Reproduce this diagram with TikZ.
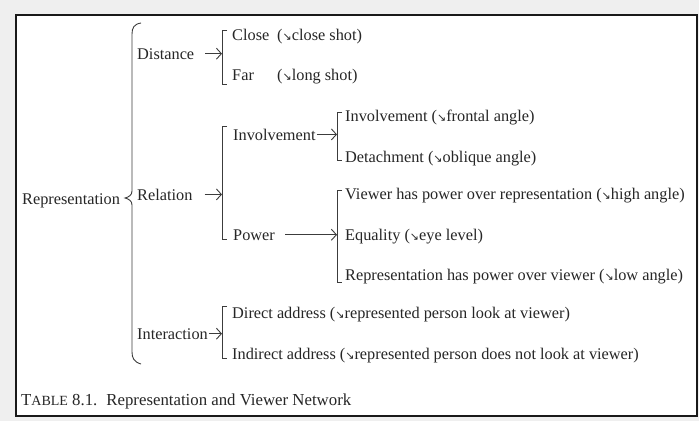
\documentclass[tikz,border=0pt]{standalone}
\usepackage{fontspec}
\setmainfont{Liberation Serif}
\newfontfamily\arrowfont{DejaVu Sans}
\usetikzlibrary{arrows.meta}
\newcommand{\sarr}{{\arrowfont\fontsize{11}{11}\selectfont\raisebox{-0.5pt}{↘}}}
\definecolor{textc}{HTML}{262626}
\definecolor{linec}{HTML}{3C3C3C}
\definecolor{bgc}{HTML}{EFEFEF}
\begin{document}
\begin{tikzpicture}[x=1pt,y=-1pt,
  txt/.style={anchor=base west, inner sep=0pt, text=textc, font=\fontsize{16.3}{18}\selectfont},
  captxt/.style={anchor=base west, inner sep=0pt, text=textc, font=\fontsize{16.8}{18}\selectfont},
  arr/.style={draw=linec, line width=0.9pt, -{Straight Barb[length=5pt,width=11pt,line width=0.9pt]}},
  brk/.style={draw=linec, line width=0.9pt},
  bracebox/.style={draw=linec, line width=0.9pt},
  frame/.style={draw=black!90, line width=1.8pt, fill=white}
]
\useasboundingbox (0,0) rectangle (699,421);
\fill[bgc] (0,0) rectangle (699,421);
\draw[frame] (16,15) rectangle (697,416);

% nodes
\node[txt] (rep) at (22,204) {Representation};
\node[txt] (dist) at (137,59) {Distance};
\node[txt] (rel) at (137,200) {Relation};
\node[txt] (inter) at (137,339) {Interaction};
\node[txt] (close) at (232,40) {\makebox[45pt][l]{Close}(\sarr close shot)};
\node[txt] (far) at (232,80) {\makebox[45pt][l]{Far}(\sarr long shot)};
\node[txt] (invm) at (233,140) {Involvement};
\node[txt] (pow) at (233,240) {Power};
\node[txt] (direct) at (232,318) {Direct address (\sarr represented person look at viewer)};
\node[txt] (indirect) at (232,359) {Indirect address (\sarr represented person does not look at viewer)};
\node[txt] (invt) at (345,121) {Involvement (\sarr frontal angle)};
\node[txt] (det) at (345,162) {Detachment (\sarr oblique angle)};
\node[txt] (view) at (345,199) {Viewer has power over representation (\sarr high angle)};
\node[txt] (eq) at (345,240) {Equality (\sarr eye level)};
\node[txt] (rephas) at (345,280) {Representation has power over viewer (\sarr low angle)};
\node[captxt] (cap) at (21,405) {T{\fontsize{14}{14}\selectfont ABLE} 8.1.\hspace{9pt}Representation and Viewer Network};

% big brace
\coordinate (tip) at (125,198);
\draw[bracebox] (141,23) .. controls (134,24) and (132,28) .. (132,34) -- (132,191)
  .. controls (132,195) and (129,197) .. (tip)
  .. controls (129,199) and (132,201) .. (132,205) -- (132,352)
  .. controls (132,358) and (134,362) .. (141,364);

% bracket coordinates
\coordinate (bDt) at (222,30);  \coordinate (bDb) at (222,84);
\coordinate (bRt) at (222,126); \coordinate (bRb) at (222,239);
\coordinate (bIt) at (222,306); \coordinate (bIb) at (222,358);
\coordinate (bVt) at (337,112); \coordinate (bVb) at (337,160);
\coordinate (bPt) at (337,190); \coordinate (bPb) at (337,282);

\foreach \b in {bD,bR,bI,bV,bP}{
  \draw[brk] ([xshift=5pt]\b t) -- (\b t) -- (\b b) -- ([xshift=5pt]\b b);
}

% arrows
\draw[arr, shorten <=11pt] (dist.east) -- (dist.east -| bDt);
\draw[arr, shorten <=12pt] (rel.east) -- (rel.east -| bRt);
\draw[arr, shorten <=1pt] (inter.east) -- (inter.east -| bIt);
\draw[arr, shorten <=1pt] (invm.east) -- (invm.east -| bVt);
\draw[arr, shorten <=10pt] (pow.east) -- (pow.east -| bPt);
\end{tikzpicture}
\end{document}
